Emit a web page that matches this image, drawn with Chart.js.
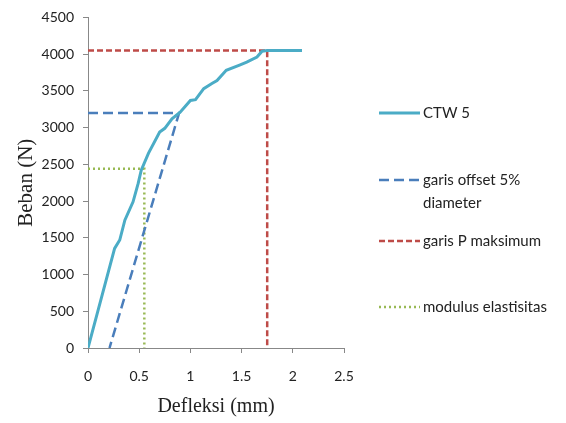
<!DOCTYPE html>
<html>
<head>
<meta charset="utf-8">
<script src="https://cdn.jsdelivr.net/npm/chart.js@4"></script>
<style>
  body { margin: 0; background: #fff; }
  #wrap { width: 566px; height: 423px; }
</style>
</head>
<body>
<div id="wrap"><canvas id="chart" width="566" height="423"></canvas></div>
<script>
// CTW 5 load-deflection curve
const deflection = [0, 0.26, 0.31, 0.36, 0.44, 0.49, 0.52, 0.59, 0.70, 0.75, 0.82, 0.90, 1.00, 1.05, 1.13, 1.21, 1.26, 1.35, 1.48, 1.55, 1.65, 1.70, 1.75, 2.09];
const load = [0, 1355, 1470, 1740, 1990, 2240, 2420, 2650, 2940, 2990, 3120, 3210, 3370, 3380, 3530, 3600, 3640, 3780, 3850, 3890, 3960, 4040, 4050, 4050];

// garis offset 5% diameter
const offsetX = [0, 0.89, 0.21];
const offsetY = [3200, 3200, 0];

// garis P maksimum
const maxX = [0, 1.75, 1.75];
const maxY = [4050, 4050, 0];

// modulus elastisitas
const modX = [0, 0.55, 0.55];
const modY = [2440, 2440, 0];

const xTicks = [0, 0.5, 1, 1.5, 2, 2.5];
const yMax = 4500;

const toPts = (xs, ys) => xs.map((x, i) => ({ x, y: ys[i] }));

const legendPlugin = {
  id: "sideLegend",
  afterDraw(chart) {
    const ctx = chart.ctx;
    const rows = [
      { ds: 0, y: 113, lines: ["CTW 5"] },
      { ds: 1, y: 180, lines: ["garis offset 5%", "diameter"] },
      { ds: 2, y: 241, lines: ["garis P maksimum"] },
      { ds: 3, y: 307, lines: ["modulus elastisitas"] }
    ];
    ctx.save();
    rows.forEach(r => {
      const d = chart.data.datasets[r.ds];
      ctx.beginPath();
      ctx.strokeStyle = d.borderColor;
      ctx.lineWidth = d.borderWidth;
      ctx.setLineDash(d.borderDash || []);
      ctx.moveTo(379, r.y);
      ctx.lineTo(420, r.y);
      ctx.stroke();
      ctx.setLineDash([]);
      ctx.fillStyle = "#222";
      ctx.font = "15px Lato";
      ctx.textBaseline = "middle";
      r.lines.forEach((t, i) => ctx.fillText(t, 423, r.y + i * 23));
    });
    ctx.restore();
  }
};

new Chart(document.getElementById("chart"), {
  type: "scatter",
  data: {
    datasets: [
      {
        label: "CTW 5",
        data: toPts(deflection, load),
        showLine: true,
        borderColor: "#4BACC6",
        borderWidth: 3,
        pointRadius: 0,
        tension: 0
      },
      {
        label: "garis offset 5% diameter",
        data: toPts(offsetX, offsetY),
        showLine: true,
        borderColor: "#4A7EBB",
        borderWidth: 2.5,
        borderDash: [10, 5],
        pointRadius: 0
      },
      {
        label: "garis P maksimum",
        data: toPts(maxX, maxY),
        showLine: true,
        borderColor: "#BE4B48",
        borderWidth: 2.5,
        borderDash: [6, 3],
        pointRadius: 0
      },
      {
        label: "modulus elastisitas",
        data: toPts(modX, modY),
        showLine: true,
        borderColor: "#98B954",
        borderWidth: 2.5,
        borderDash: [2, 3],
        pointRadius: 0
      }
    ]
  },
  options: {
    responsive: false,
    animation: false,
    layout: { padding: { top: 17, right: 222, left: 0, bottom: 0 } },
    plugins: { legend: { display: false }, tooltip: { enabled: false } },
    scales: {
      x: {
        type: "linear",
        min: 0,
        max: 2.5,
        afterBuildTicks: s => { s.ticks = xTicks.map(v => ({ value: v })); },
        afterFit: s => { s.height = 75; },
        border: { color: "#888", width: 1 },
        grid: { drawOnChartArea: false, tickLength: 5, color: "#888" },
        ticks: { color: "#222", font: { family: "Lato", size: 14 }, padding: 15, callback: v => String(v) },
        title: { display: true, text: "Defleksi (mm)", color: "#222", font: { family: "Liberation Serif", size: 20 }, padding: { top: 2 } }
      },
      y: {
        type: "linear",
        min: 0,
        max: yMax,
        afterFit: s => { s.width = 88; },
        border: { color: "#888", width: 1 },
        grid: { drawOnChartArea: false, tickLength: 5, color: "#888" },
        ticks: { stepSize: 500, color: "#222", font: { family: "Lato", size: 14 }, padding: 9, callback: v => String(v) },
        title: { display: true, text: "Beban (N)", color: "#222", font: { family: "Liberation Serif", size: 21 }, padding: { top: 14, bottom: 0 } }
      }
    }
  },
  plugins: [legendPlugin]
});
</script>
</body>
</html>
